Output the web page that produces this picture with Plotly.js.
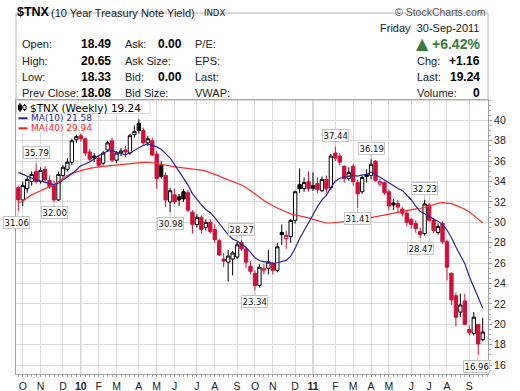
<!DOCTYPE html>
<html><head><meta charset="utf-8">
<script src="https://cdn.plot.ly/plotly-3.0.1.min.js"></script>
<style>html,body{margin:0;padding:0;background:#fff}#chart{width:520px;height:391px}</style>
</head><body><div id="chart"></div>
<script>
// ---- data (weekly bars, dated by the Monday of each week) ----
const weeks = ['2009-09-28','2009-10-05','2009-10-12','2009-10-19','2009-10-26','2009-11-02','2009-11-09','2009-11-16','2009-11-23','2009-11-30','2009-12-07','2009-12-14','2009-12-21','2009-12-28',
'2010-01-04','2010-01-11','2010-01-18','2010-01-25','2010-02-01','2010-02-08','2010-02-15','2010-02-22','2010-03-01','2010-03-08','2010-03-15','2010-03-22','2010-03-29','2010-04-05','2010-04-12','2010-04-19','2010-04-26','2010-05-03','2010-05-10','2010-05-17','2010-05-24','2010-05-31','2010-06-07','2010-06-14','2010-06-21','2010-06-28','2010-07-05','2010-07-12','2010-07-19','2010-07-26','2010-08-02','2010-08-09','2010-08-16','2010-08-23','2010-08-30','2010-09-06','2010-09-13','2010-09-20','2010-09-27','2010-10-04','2010-10-11','2010-10-18','2010-10-25','2010-11-01','2010-11-08','2010-11-15','2010-11-22','2010-11-29','2010-12-06','2010-12-13','2010-12-20','2010-12-27',
'2011-01-03','2011-01-10','2011-01-17','2011-01-24','2011-01-31','2011-02-07','2011-02-14','2011-02-21','2011-02-28','2011-03-07','2011-03-14','2011-03-21','2011-03-28','2011-04-04','2011-04-11','2011-04-18','2011-04-25','2011-05-02','2011-05-09','2011-05-16','2011-05-23','2011-05-30','2011-06-06','2011-06-13','2011-06-20','2011-06-27','2011-07-04','2011-07-11','2011-07-18','2011-07-25','2011-08-01','2011-08-08','2011-08-15','2011-08-22','2011-08-29','2011-09-05','2011-09-12','2011-09-19','2011-09-26'];

const open = [33.4,32.2,33.3,34.0,35.0,34.0,35.2,34.1,33.6,32.2,34.6,35.2,35.9,38.1,
38.5,38.2,36.9,36.5,36.3,35.8,37.1,38.0,36.1,36.8,37.1,36.8,38.6,39.7,39.0,37.8,38.0,36.7,35.6,34.6,32.0,32.7,32.5,33.0,32.9,31.0,29.8,30.5,29.5,30.0,29.3,28.2,26.4,26.1,26.4,26.6,28.0,27.4,25.7,25.0,23.8,25.3,25.5,25.95,25.3,29.0,28.4,28.6,30.2,33.7,33.3,34.0,
33.6,33.8,33.1,34.2,33.4,36.8,36.5,35.5,34.3,35.5,33.9,33.0,34.7,34.6,36.0,33.75,33.9,33.0,31.9,31.85,31.3,30.9,30.3,29.9,29.1,28.9,31.7,30.2,29.0,29.9,28.1,25.0,22.8,21.2,22.3,19.5,19.1,20.0,18.49];
const high = [33.6,34.0,34.5,35.0,35.79,35.4,35.5,34.6,34.1,35.0,35.6,36.3,38.2,38.6,
38.7,38.3,37.2,36.8,36.6,37.0,38.0,38.3,37.0,37.3,37.5,38.7,39.5,40.1,39.3,38.5,38.3,37.0,36.0,34.9,33.4,33.3,32.8,33.3,33.2,31.2,30.8,30.7,30.3,30.3,29.8,28.4,27.0,27.3,27.2,28.1,28.27,27.6,26.2,25.3,25.9,25.9,27.3,26.1,28.0,29.8,29.2,30.3,33.1,35.3,34.4,35.0,
34.9,34.4,34.5,34.6,36.7,37.44,36.8,35.6,35.4,35.7,34.2,34.6,35.2,36.19,36.1,34.3,34.0,33.2,32.3,32.2,31.5,31.2,30.4,30.2,29.5,32.23,31.9,30.4,29.9,30.1,28.3,25.1,23.1,23.0,23.0,19.9,21.2,20.0,20.65];
const low = [31.06,31.6,32.9,33.6,33.8,33.8,34.0,33.3,32.00,32.1,34.4,35.0,35.6,37.8,
37.9,36.5,36.0,35.9,35.4,35.6,36.9,35.9,35.8,36.5,36.4,36.6,38.3,38.7,37.6,37.5,36.5,33.3,34.3,31.5,30.98,31.8,31.6,32.0,31.0,28.9,29.5,28.9,29.2,28.9,28.0,26.7,25.6,24.2,24.8,26.4,27.2,25.5,24.9,23.34,23.6,24.9,24.9,24.9,25.1,27.8,27.4,28.0,29.9,32.9,33.0,33.0,
33.1,32.9,33.0,32.9,33.2,36.0,35.6,33.9,34.1,33.6,31.41,32.8,33.9,34.2,34.0,33.5,32.7,31.2,31.2,31.0,30.6,29.6,29.4,29.0,28.47,28.7,30.0,28.9,28.8,27.9,24.3,21.9,19.8,20.7,19.9,18.9,18.9,16.96,18.33];
const close = [32.2,33.6,34.2,34.7,34.0,35.1,34.2,33.5,32.2,34.7,35.4,35.9,38.0,38.4,
38.2,36.8,36.2,36.3,35.6,36.8,37.8,36.1,36.8,37.0,36.9,38.5,38.9,39.0,37.8,38.2,36.6,34.3,34.5,32.2,33.1,32.0,32.2,32.3,31.2,29.8,30.5,29.3,30.0,29.1,28.3,26.8,26.2,26.7,27.0,27.8,27.4,26.1,25.2,23.8,25.6,25.5,26.1,25.3,27.6,28.8,28.7,30.2,33.0,33.3,33.9,33.3,
33.35,33.2,34.2,33.3,36.5,36.3,35.9,34.3,34.9,34.0,32.8,34.4,34.5,35.7,34.1,34.0,32.9,31.6,31.7,31.5,30.9,30.0,29.8,29.4,28.8,31.8,30.2,29.2,29.6,28.1,25.6,22.4,20.7,21.9,20.0,19.2,20.7,18.08,19.24];
const ma10 = [34.9,34.7,34.5,34.3,34.15,34.05,33.95,33.85,33.7,33.84,34.16,34.39,34.77,35.14,
35.56,35.73,35.93,36.21,36.55,36.76,37.00,37.02,36.90,36.76,36.63,36.80,37.07,37.34,37.56,37.70,37.58,37.40,37.17,36.69,36.31,35.66,34.99,34.32,33.66,32.82,32.21,31.71,31.26,30.95,30.47,29.95,29.35,28.79,28.37,28.17,27.86,27.54,27.06,26.53,26.26,26.13,26.12,25.98,26.04,26.14,26.27,26.68,27.46,28.41,29.24,30.02,
30.75,31.54,32.20,32.65,33.43,34.04,34.33,34.43,34.53,34.60,34.54,34.66,34.69,34.93,34.69,34.46,34.16,33.89,33.57,33.32,33.13,32.69,32.22,31.59,31.06,30.84,30.57,30.33,30.12,29.78,29.25,28.49,27.58,26.83,25.95,24.69,23.74,22.63,21.58];
const ma40 = [31.9,32.1,32.4,32.7,32.9,33.1,33.3,33.5,33.7,34.0,34.3,34.6,34.8,34.95,
35.1,35.2,35.3,35.4,35.45,35.5,35.55,35.6,35.6,35.65,35.7,35.75,35.8,35.85,35.88,35.88,35.85,35.8,35.7,35.6,35.5,35.45,35.4,35.35,35.3,35.28,35.24,35.13,35.03,34.89,34.74,34.54,34.34,34.17,34.04,33.86,33.66,33.42,33.10,32.73,32.42,32.14,31.88,31.61,31.41,31.21,30.98,30.83,30.74,30.65,30.57,30.44,
30.30,30.16,30.07,29.94,29.94,29.99,30.03,30.08,30.12,30.17,30.19,30.24,30.32,30.47,30.56,30.68,30.75,30.81,30.90,31.02,31.13,31.22,31.29,31.33,31.36,31.50,31.63,31.76,31.86,31.93,31.92,31.84,31.67,31.50,31.28,31.01,30.70,30.32,29.94];

const tickDates = ['2009-10-05','2009-11-02','2009-12-07','2010-01-04','2010-02-01','2010-03-01','2010-04-05','2010-05-03','2010-05-31','2010-07-05','2010-08-02','2010-09-06','2010-10-04','2010-11-01','2010-12-06','2011-01-03','2011-02-07','2011-03-07','2011-04-04','2011-05-02','2011-06-06','2011-07-04','2011-08-01','2011-09-05'];
const tickLabels = ['O','N','D','<b>10</b>','F','M','A','M','J','J','A','S','O','N','D','<b>11</b>','F','M','A','M','J','J','A','S'];
const yearStarts = ['2010-01-04','2011-01-03'];
const yTicks = [16,18,20,22,24,26,28,30,32,34,36,38,40];
const marked = [[0,'low'],[4,'high'],[8,'low'],[34,'low'],[50,'high'],[53,'low'],[71,'high'],[76,'low'],[79,'high'],[90,'low'],[91,'high'],[103,'low']];

// ---- build ----
const RED = '#d0103a', BLACK = '#000000';
const grpB = {x:[],open:[],high:[],low:[],close:[]}, grpR = {x:[],open:[],high:[],low:[],close:[]};
for (let i = 0; i < weeks.length; i++) {
  const prev = i > 0 ? close[i-1] : open[i];
  const g = close[i] >= prev ? grpB : grpR;
  g.x.push(weeks[i]); g.open.push(open[i]); g.high.push(high[i]); g.low.push(low[i]); g.close.push(close[i]);
}
function candle(g, col) {
  return {type:'candlestick', x:g.x, open:g.open, high:g.high, low:g.low, close:g.close,
    increasing:{line:{color:col,width:1}, fillcolor:'#ffffff'},
    decreasing:{line:{color:col,width:1}, fillcolor:col},
    whiskerwidth:0, hoverinfo:'skip', showlegend:false};
}
const traces = [
  candle(grpB, BLACK), candle(grpR, RED),
  {type:'scatter', mode:'lines', x:weeks, y:ma40, line:{color:'#ff2a2a', width:1.2}, hoverinfo:'skip'},
  {type:'scatter', mode:'lines', x:weeks, y:ma10, line:{color:'#2626a0', width:1.2}, hoverinfo:'skip'}
];

// pixel helpers (plot area: x 16..488, y 100..374)
const L = 16, R = 488, T = 100, B = 374;
const PX = p => (p - L) / (R - L);
const PY = p => (B - p) / (B - T);

const ann = [];
function txt(x, y, text, o) {
  ann.push(Object.assign({xref:'paper', yref:'paper', x:PX(x), y:PY(y), text:text, showarrow:false,
    xanchor:'left', yanchor:'middle', font:{family:'Liberation Sans, Arial, sans-serif', size:11, color:'#222'}}, o||{}));
}

// header
txt(15, 12, '<b>$TNX</b>', {font:{family:'Liberation Sans, Arial, sans-serif', size:12.5, color:'#000'}});
txt(48.5, 12.5, '(10 Year Treasury Note Yield)', {font:{family:'Liberation Sans, Arial, sans-serif', size:11, color:'#222'}});
txt(202, 13, 'INDX', {font:{family:'DejaVu Sans, sans-serif', size:8.5, color:'#222'}});
txt(488, 12, '© StockCharts.com', {xanchor:'right', font:{family:'Liberation Sans, Arial, sans-serif', size:10.5, color:'#555'}});
// info panel
const rowsY = [44, 60.5, 77, 93];
const col1 = ['Open:','High:','Low:','Prev Close:'];
const val1 = [open[open.length-1], high[high.length-1], low[low.length-1], close[close.length-2]];
const col2 = ['Ask:','Ask Size:','Bid:','Bid Size:'];
const val2 = ['0.00','','0.00',''];
const col3 = ['P/E:','EPS:','Last:','VWAP:'];
const col4 = ['','Chg:','Last:','Volume:'];
const last = close[close.length-1], prevC = close[close.length-2];
const val4 = ['', (last-prevC>=0?'+':'')+(last-prevC).toFixed(2), last.toFixed(2), '0'];
for (let r = 0; r < 4; r++) {
  txt(19.5, rowsY[r], col1[r]);
  txt(112.5, rowsY[r], '<b>'+val1[r].toFixed(2)+'</b>', {xanchor:'right', font:{family:'Liberation Sans, Arial, sans-serif', size:12, color:'#000'}});
  txt(122.5, rowsY[r], col2[r]);
  if (val2[r]) txt(183.5, rowsY[r], '<b>'+val2[r]+'</b>', {xanchor:'right', font:{family:'Liberation Sans, Arial, sans-serif', size:12, color:'#000'}});
  txt(192.5, rowsY[r], col3[r]);
  if (col4[r]) { txt(414.5, rowsY[r], col4[r]);
    txt(481.5, rowsY[r], '<b>'+val4[r]+'</b>', {xanchor:'right', font:{family:'Liberation Sans, Arial, sans-serif', size:12, color:'#000'}}); }
}
txt(481, 27.5, 'Friday&nbsp;&nbsp;30-Sep-2011', {xanchor:'right'});
const pct = (last - prevC) / prevC * 100;
txt(481.5, 44, '<b>+' + pct.toFixed(2) + '%</b>', {xanchor:'right', font:{family:'Liberation Sans, Arial, sans-serif', size:14, color:'#3a7a3e'}});
txt(413.5, 43.5, '▲', {font:{family:'DejaVu Sans, sans-serif', size:16, color:'#3a7a3e'}});
// legend
txt(28, 107.5, '$TNX (Weekly) ' + last.toFixed(2), {font:{family:'DejaVu Sans, sans-serif', size:10.5, color:'#000'}});
txt(28.5, 118.3, 'MA(10) ' + ma10[ma10.length-1].toFixed(2), {font:{family:'DejaVu Sans, sans-serif', size:9, color:'#1f1fa0'}});
txt(28.5, 128.3, 'MA(40) ' + ma40[ma40.length-1].toFixed(2), {font:{family:'DejaVu Sans, sans-serif', size:9, color:'#ff1a1a'}});

// high / low labels
marked.forEach(([i, kind]) => {
  const v = kind === 'high' ? high[i] : low[i];
  ann.push({x:weeks[i], y:v, xref:'x', yref:'y', text:v.toFixed(2), showarrow:true, arrowhead:0,
    arrowwidth:1, arrowcolor:'#c4c4c4', ax:(i===0||i===103)?-2:0, ay: kind === 'high' ? -11 : 11, standoff:0,
    bgcolor:'#ffffff', bordercolor:'#c4c4c4', borderwidth:1, borderpad:0.5,
    font:{family:'DejaVu Sans, sans-serif', size:8.5, color:'#111'}});
});

const shapes = [
  {type:'rect', xref:'paper', yref:'paper', x0:PX(16), x1:PX(488), y0:PY(13), y1:PY(100), line:{color:'#b4b4b4', width:1}, fillcolor:'rgba(0,0,0,0)', layer:'above'},
  {type:'rect', xref:'paper', yref:'paper', x0:PX(16.5), x1:PX(150), y0:PY(100.5), y1:PY(113.5), line:{color:'#d4d4d4', width:1}, fillcolor:'#ffffff', layer:'above'},
  {type:'rect', xref:'paper', yref:'paper', x0:PX(16.5), x1:PX(90), y0:PY(113.5), y1:PY(133), line:{width:0}, fillcolor:'#ffffff', layer:'above'},
  {type:'line', xref:'paper', yref:'paper', x0:PX(20), x1:PX(20), y0:PY(103), y1:PY(112), line:{color:'#000', width:1}, layer:'above'},
  {type:'rect', xref:'paper', yref:'paper', x0:PX(18.5), x1:PX(21.5), y0:PY(105), y1:PY(110), line:{color:'#000', width:1}, fillcolor:'#000', layer:'above'},
  {type:'line', xref:'paper', yref:'paper', x0:PX(24.5), x1:PX(24.5), y0:PY(104), y1:PY(111), line:{color:'#000', width:1}, layer:'above'},
  {type:'rect', xref:'paper', yref:'paper', x0:PX(23), x1:PX(26), y0:PY(105.5), y1:PY(109.5), line:{color:'#000', width:1}, fillcolor:'#fff', layer:'above'},
  {type:'line', xref:'paper', yref:'paper', x0:PX(18.5), x1:PX(27.5), y0:PY(118.3), y1:PY(118.3), line:{color:'#1f1fa0', width:2}, layer:'above'},
  {type:'line', xref:'paper', yref:'paper', x0:PX(18.5), x1:PX(27.5), y0:PY(128.3), y1:PY(128.3), line:{color:'#ff1a1a', width:2}, layer:'above'}
];
yearStarts.forEach(d => shapes.push({type:'line', xref:'x', yref:'paper', x0:d, x1:d, y0:0, y1:1, line:{color:'#aaaaaa', width:1}, layer:'below'}));

const layout = {
  width:520, height:391, margin:{l:L, r:520-R, t:T, b:391-B},
  paper_bgcolor:'#ffffff', plot_bgcolor:'#ffffff', showlegend:false,
  font:{family:'Liberation Sans, Arial, sans-serif', size:11, color:'#222'},
  xaxis:{type:'date', range:['2009-09-24 10:00','2011-10-04 07:00'], tickmode:'array', tickvals:tickDates, ticktext:tickLabels,
    showgrid:true, gridcolor:'#dadada', gridwidth:1, showline:true, linecolor:'#a0a0a0', mirror:true,
    ticks:'outside', ticklen:2, tickcolor:'#999', tickfont:{size:10.5, color:'#222'},
    minor:{ticks:'outside', ticklen:2, tickcolor:'#aaa', dtick:604800000, tick0:'2009-09-28', showgrid:false},
    rangeslider:{visible:false}, fixedrange:true},
  yaxis:{side:'right', range:[15.13, 42.0], tickmode:'array', tickvals:yTicks, showgrid:true, gridcolor:'#dadada', gridwidth:1,
    showline:true, linecolor:'#a0a0a0', mirror:true, zeroline:false, ticks:'outside', ticklen:3, tickcolor:'#999',
    tickfont:{size:10.5, color:'#222'}, minor:{ticks:'outside', ticklen:2, tickcolor:'#aaa', dtick:0.5, showgrid:false}, fixedrange:true},
  boxgap:0.25, boxgroupgap:0,
  annotations:ann, shapes:shapes
};
Plotly.newPlot('chart', traces, layout, {staticPlot:true, displayModeBar:false});
</script></body></html>
